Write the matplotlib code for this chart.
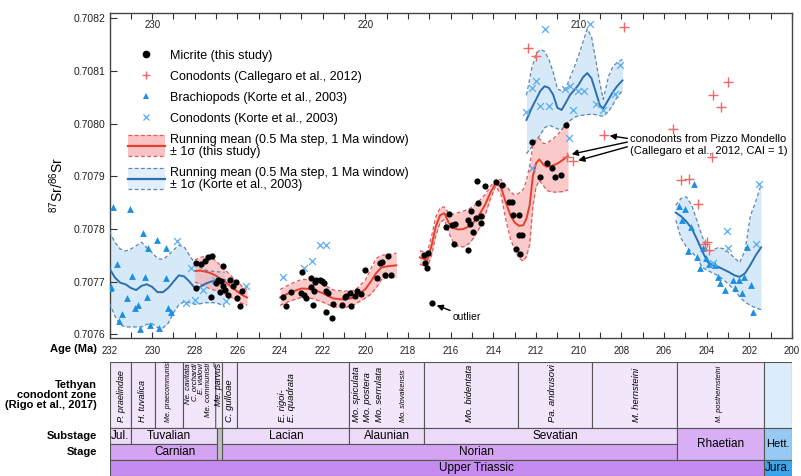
import numpy as np
import matplotlib
matplotlib.use("Agg")
import matplotlib.pyplot as plt
from matplotlib.patches import Rectangle
from matplotlib.lines import Line2D
from matplotlib.legend_handler import HandlerBase
import matplotlib.transforms as mtransforms

plt.rcParams['font.family'] = ['Liberation Sans', 'DejaVu Sans']
plt.rcParams['mathtext.fontset'] = 'custom'
plt.rcParams['mathtext.rm'] = 'Liberation Sans'
plt.rcParams['mathtext.it'] = 'Liberation Sans:italic'

# ----------------------------------------
# data (age in Ma, 87Sr/86Sr)
# ----------------------------------------
micrite_age = [227.93, 227.73, 227.54, 227.39, 227.20, 226.68, 226.92, 227.00, 226.76, 226.68,
               226.37, 226.84, 226.60, 226.05, 226.21, 227.26, 227.93, 226.45, 226.01, 225.90,
               225.79,
               223.87, 223.71, 223.47, 223.00, 222.90, 222.98, 222.77, 222.53, 222.53, 222.41,
               222.38, 222.30, 222.15, 222.04, 221.94, 221.83, 221.76, 222.46, 221.83, 221.57,
               221.52, 221.10, 220.89, 220.97, 220.69, 220.74, 220.47, 220.38, 220.19, 220.00,
               219.44, 219.33, 219.22, 218.94, 219.10, 218.81,
               217.27, 217.06, 217.22, 217.11, 216.86, 216.23, 216.08, 215.92, 215.81, 215.86,
               215.21, 215.19, 215.11, 215.03, 214.95, 214.82, 214.76, 214.72, 214.59, 214.56,
               214.41, 213.86, 213.62, 213.26, 213.15, 213.07, 212.79, 212.79, 212.68, 212.95,
               212.73, 211.82, 211.51, 211.27, 211.12, 212.21, 210.60, 210.84]
micrite_sr = [0.707735, 0.707733, 0.707740, 0.707746, 0.707748, 0.707729, 0.707704, 0.707697, 0.707701, 0.707692,
              0.707703, 0.707681, 0.707684, 0.707700, 0.707692, 0.707670, 0.707687, 0.707674, 0.707668, 0.707654,
              0.707683,
              0.707670, 0.707654, 0.707681, 0.707679, 0.707674, 0.707719, 0.707668, 0.707706, 0.707689, 0.707683,
              0.707700, 0.707704, 0.707704, 0.707702, 0.707698, 0.707683, 0.707679, 0.707655, 0.707642, 0.707631,
              0.707657, 0.707655, 0.707672, 0.707670, 0.707654, 0.707679, 0.707672, 0.707682, 0.707676, 0.707723,
              0.707706, 0.707736, 0.707738, 0.707748, 0.707712, 0.707712,
              0.707750, 0.707755, 0.707736, 0.707725, 0.707660, 0.707803, 0.707829, 0.707807, 0.707809, 0.707772,
              0.707761, 0.707817, 0.707809, 0.707834, 0.707794, 0.707820, 0.707891, 0.707850, 0.707824, 0.707812,
              0.707881, 0.707889, 0.707884, 0.707851, 0.707851, 0.707826, 0.707826, 0.707788, 0.707788, 0.707762,
              0.707752, 0.707899, 0.707925, 0.707915, 0.707899, 0.707965, 0.707997, 0.707902]

callegaro_age = [212.37, 211.98, 207.88, 202.98, 203.69, 203.33, 205.57, 208.80, 203.77, 210.54,
                 210.26, 205.22, 204.81, 204.42, 203.97, 204.08, 203.88]
callegaro_sr = [0.708143, 0.708128, 0.708184, 0.708079, 0.708054, 0.708031, 0.707989, 0.707978, 0.707936, 0.707937,
                0.707929, 0.707893, 0.707894, 0.707847, 0.707776, 0.707772, 0.707760]

brach_age = [231.85, 231.05, 230.45, 229.75, 230.20, 229.35, 231.65, 230.95, 230.35, 229.35,
             231.95, 231.20, 230.25, 230.80, 230.65, 231.40, 229.25, 229.10, 231.55, 230.55,
             230.10, 229.70, 231.97,
             204.60, 205.28, 205.02, 205.17, 204.75, 204.86, 204.44, 204.19, 204.03, 204.31,
             203.88, 203.62, 203.46, 203.37, 203.14, 202.75, 202.67, 202.47, 202.36, 202.25,
             202.12, 201.93, 201.81]
brach_sr = [0.707842, 0.707837, 0.707792, 0.707779, 0.707763, 0.707764, 0.707733, 0.707710, 0.707709, 0.707706,
            0.707690, 0.707668, 0.707670, 0.707650, 0.707655, 0.707638, 0.707650, 0.707642, 0.707625, 0.707610,
            0.707618, 0.707612, 0.707687,
            0.707885, 0.707843, 0.707838, 0.707817, 0.707803, 0.707758, 0.707747, 0.707763, 0.707744, 0.707725,
            0.707733, 0.707731, 0.707709, 0.707697, 0.707685, 0.707703, 0.707687, 0.707704, 0.707679, 0.707709,
            0.707765, 0.707693, 0.707643]

korte_cono_age = [228.82, 228.20, 228.43, 228.00, 227.60, 227.07, 226.55, 225.60,
                  223.87, 222.90, 222.52, 222.11, 221.83,
                  209.47, 211.59, 212.21, 211.98, 212.45, 211.82, 211.40, 210.65, 210.41, 210.02,
                  209.76, 210.26, 210.45, 212.21, 209.19, 208.88, 208.30, 208.07,
                  201.53, 203.06, 201.68, 203.72, 202.99]
korte_cono_sr = [0.707777, 0.707725, 0.707660, 0.707666, 0.707685, 0.707703, 0.707664, 0.707692,
                 0.707708, 0.707725, 0.707739, 0.707769, 0.707769,
                 0.708189, 0.708179, 0.708068, 0.708080, 0.708022, 0.708034, 0.708034, 0.708065, 0.708071, 0.708061,
                 0.708062, 0.708025, 0.707972, 0.707915, 0.708037, 0.708025, 0.708057, 0.708111,
                 0.707885, 0.707796, 0.707771, 0.707736, 0.707763]

# running mean of this study, three segments (mean and 1 sigma)
red_age_1 = [228.0, 227.75, 227.5, 227.25, 227.0, 226.75, 226.5, 226.25, 226.0, 225.75, 225.55]
red_mean_1 = [0.707720, 0.707721, 0.707719, 0.707716, 0.707711, 0.707704, 0.707697, 0.707689, 0.707681, 0.707674, 0.707670]
red_sd_1 = [0.000021, 0.000025, 0.000029, 0.000030, 0.000028, 0.000025, 0.000022, 0.000020, 0.000018, 0.000016, 0.000015]

red_age_2 = [224.0, 223.5, 223.0, 222.5, 222.0, 221.5, 221.0, 220.5, 220.0, 219.75, 219.5, 219.25, 219.0, 218.55]
red_mean_2 = [0.707670, 0.707680, 0.707687, 0.707686, 0.707678, 0.707668, 0.707666, 0.707670, 0.707686, 0.707700,
              0.707716, 0.707727, 0.707729, 0.707731]
red_sd_2 = [0.000015, 0.000016, 0.000017, 0.000018, 0.000017, 0.000016, 0.000016, 0.000013, 0.000017, 0.000024,
            0.000028, 0.000023, 0.000022, 0.000023]

red_age_3 = [217.45, 217.25, 217.1, 216.9, 216.7, 216.5, 216.3, 216.1, 215.9, 215.65, 215.4, 215.15, 214.9, 214.65,
             214.4, 214.15, 213.9, 213.65, 213.4, 213.2, 213.0, 212.8, 212.6, 212.45, 212.3, 212.15, 212.0, 211.85,
             211.65, 211.5, 211.25, 211.0, 210.75, 210.5]
red_mean_3 = [0.707746, 0.707743, 0.707741, 0.707768, 0.707805, 0.707826, 0.707830, 0.707812, 0.707802, 0.707799,
              0.707800, 0.707805, 0.707814, 0.707828, 0.707845, 0.707868, 0.707887, 0.707880, 0.707848, 0.707826,
              0.707812, 0.707806, 0.707807, 0.707820, 0.707845, 0.707900, 0.707925, 0.707932, 0.707922, 0.707918,
              0.707920, 0.707924, 0.707931, 0.707939]
red_sd_3 = [0.000013, 0.000013, 0.000014, 0.000018, 0.000018, 0.000014, 0.000012, 0.000018, 0.000026, 0.000032,
            0.000034, 0.000033, 0.000030, 0.000026, 0.000020, 0.000012, 0.000006, 0.000014, 0.000034, 0.000045,
            0.000052, 0.000062, 0.000068, 0.000072, 0.000075, 0.000058, 0.000045, 0.000040, 0.000040, 0.000045,
            0.000050, 0.000054, 0.000060, 0.000065]

# running mean of Korte et al. (2003), three segments (lower, mean, upper)
blue_age_1 = [232.0, 231.75, 231.5, 231.25, 231.0, 230.75, 230.5, 230.25, 230.0, 229.75, 229.5, 229.25,
              229.0, 228.75, 228.5, 228.25, 228.0, 227.75, 227.5, 227.25, 227.0, 226.75, 226.6]
blue_lo_1 = [0.707659, 0.707635, 0.707618, 0.707614, 0.707614, 0.707614, 0.707614, 0.707619, 0.707620, 0.707613,
             0.707612, 0.707621, 0.707641, 0.707656, 0.707662, 0.707660, 0.707657, 0.707658, 0.707660, 0.707660,
             0.707660, 0.707656, 0.707652]
blue_mean_1 = [0.707725, 0.707708, 0.707698, 0.707695, 0.707688, 0.707684, 0.707692, 0.707695, 0.707690, 0.707680,
               0.707680, 0.707688, 0.707700, 0.707712, 0.707710, 0.707700, 0.707688, 0.707690, 0.707696, 0.707700,
               0.707702, 0.707703, 0.707703]
blue_hi_1 = [0.707795, 0.707775, 0.707762, 0.707758, 0.707762, 0.707768, 0.707775, 0.707764, 0.707755, 0.707744,
             0.707742, 0.707750, 0.707760, 0.707769, 0.707766, 0.707750, 0.707735, 0.707727, 0.707722, 0.707720,
             0.707719, 0.707718, 0.707718]

blue_age_2 = [212.45, 212.2, 212.0, 211.8, 211.6, 211.4, 211.2, 211.0, 210.8, 210.6, 210.4, 210.2, 210.0,
              209.8, 209.6, 209.4, 209.2, 209.0, 208.85, 208.6, 208.4, 208.2, 207.95]
blue_lo_2 = [0.707943, 0.707956, 0.707968, 0.707979, 0.707992, 0.707997, 0.707994, 0.707990, 0.707988, 0.707999,
             0.708006, 0.708012, 0.708015, 0.708016, 0.708017, 0.708018, 0.708017, 0.708015, 0.708014, 0.708023,
             0.708036, 0.708050, 0.708063]
blue_mean_2 = [0.708007, 0.708030, 0.708046, 0.708062, 0.708071, 0.708068, 0.708055, 0.708030, 0.708026, 0.708040,
               0.708055, 0.708064, 0.708074, 0.708088, 0.708096, 0.708086, 0.708060, 0.708034, 0.708029, 0.708046,
               0.708060, 0.708071, 0.708082]
blue_hi_2 = [0.708054, 0.708105, 0.708132, 0.708141, 0.708137, 0.708122, 0.708098, 0.708066, 0.708062, 0.708068,
             0.708088, 0.708108, 0.708130, 0.708155, 0.708180, 0.708165, 0.708120, 0.708075, 0.708046, 0.708090,
             0.708108, 0.708116, 0.708122]

blue_age_3 = [205.45, 205.2, 204.95, 204.7, 204.45, 204.2, 203.95, 203.7, 203.45, 203.2, 202.95, 202.7,
              202.45, 202.2, 201.95, 201.7, 201.45]
blue_lo_3 = [0.707817, 0.707782, 0.707766, 0.707756, 0.707745, 0.707727, 0.707721, 0.707716, 0.707711, 0.707703,
             0.707694, 0.707684, 0.707671, 0.707661, 0.707655, 0.707650, 0.707647]
blue_mean_3 = [0.707831, 0.707824, 0.707814, 0.707801, 0.707780, 0.707757, 0.707737, 0.707731, 0.707728, 0.707723,
               0.707718, 0.707712, 0.707709, 0.707716, 0.707732, 0.707750, 0.707765]
blue_hi_3 = [0.707845, 0.707858, 0.707861, 0.707845, 0.707815, 0.707785, 0.707756, 0.707760, 0.707765, 0.707762,
             0.707755, 0.707745, 0.707736, 0.707760, 0.707825, 0.707852, 0.707884]

# timescale
zone_edges = [232.0, 231.0, 229.85, 228.55, 226.72, 226.0, 220.78, 217.26, 212.87, 209.36, 205.4, 201.3]
jurassic_start = 201.3
age_end = 200.0
wavy_age = [227.02, 227.02, 227.10, 227.10]
zone_names = ['P. praelindae', 'H. tuvalica', 'Me. praecommunisi',
              'Ne. cavitata\nC. orchardi\nE. vialovi\nMe. communisti', 'Me. parvus', 'C. gulloae',
              'E. rigoi-\nE. quadrata', 'Mo. spiculata', 'Mo. postera', 'Mo. serrulata', 'Mo. slovakensis',
              'Mo. bidentata', 'Pa. andrusovi', 'M. hernsteini', 'M. posthernsteini']
zone_label_age = [231.45, 230.45, 229.25, 227.82, 226.88, 226.38, 223.7, 220.42, 219.88, 219.34, 218.2,
                  215.1, 211.25, 207.3, 203.4]
zone_label_size = [6.5, 6.5, 5, 5.6, 6.3, 6.8, 6.8, 6.8, 6.8, 6.8, 5.3, 6.8, 6.8, 6.8, 5.3]
zone_label_top = [False, False, False, True, True, False, False, False, False, False, False,
                  False, False, False, False]

substage_names = ['Jul.', 'Tuvalian', 'Lacian', 'Alaunian', 'Sevatian']
substage_start = [232.0, 231.0, 226.72, 220.78, 217.26]
substage_end = [231.0, 226.97, 220.78, 217.26, 205.4]
substage_label_age = [231.5, 229.2, 223.7, 219.0, 211.1]
stage_names = ['Carnian', 'Norian']
stage_start = [232.0, 226.72]
stage_end = [226.97, 205.4]
stage_label_age = [228.95, 214.8]
gap_start, gap_end = 226.97, 226.72
rhaetian = (205.4, 201.3)
series_names = ['Upper Triassic', 'Jura.']
series_start = [232.0, 201.3]
series_end = [201.3, 200.0]
series_label_age = [214.8, 200.65]

top_label_ages = [230, 220, 210]

# colours
c_red_line, c_red_dash, c_red_fill = '#e2412d', '#e05a5a', '#f7aaaa'
c_blue_line, c_blue_dash, c_blue_fill = '#2a6fae', '#5b86b3', '#d6e9f8'
c_zone, c_sub, c_stage, c_series = '#f2e6fb', '#ecdbf9', '#d4a3f2', '#c58bf0'
c_rhaet, c_jur_zone, c_hett, c_jura = '#d8aef5', '#dbecfb', '#96caf4', '#3aa6ee'
c_edge = '#555555'


class BandKey:
    def __init__(self, fill, line, dash):
        self.fill, self.line, self.dash = fill, line, dash


class BandHandler(HandlerBase):
    def create_artists(self, legend, key, xd, yd, w, h, fs, trans):
        h2 = h * 2.4
        y0 = -yd + (h - h2) / 2
        x = [-xd, -xd + w]
        rect = Rectangle((-xd, y0), w, h2, facecolor=key.fill, edgecolor='none', alpha=0.7, transform=trans)
        top = Line2D(x, [y0 + h2] * 2, color=key.dash, ls='--', lw=0.9, dashes=(3, 2), transform=trans)
        bot = Line2D(x, [y0] * 2, color=key.dash, ls='--', lw=0.9, dashes=(3, 2), transform=trans)
        mid = Line2D(x, [y0 + h2 / 2] * 2, color=key.line, lw=1.6, transform=trans)
        return [rect, top, bot, mid]


fig = plt.figure(figsize=(8.01, 4.76), dpi=100)
W, H = 801.0, 476.0
ax_left, ax_right = 109.5, 792.0
ax = fig.add_axes([ax_left / W, 1 - 338 / H, (ax_right - ax_left) / W, (338 - 13) / H])


def band(age, lo, mid, hi, fill, line, dash, z):
    ax.fill_between(age, lo, hi, color=fill, lw=0, zorder=z)
    ax.plot(age, hi, color=dash, ls='--', lw=0.9, dashes=(3, 2), zorder=4)
    ax.plot(age, lo, color=dash, ls='--', lw=0.9, dashes=(3, 2), zorder=4)
    ax.plot(age, mid, color=line, lw=1.4, zorder=5)


for age, lo, mid, hi in [(blue_age_1, blue_lo_1, blue_mean_1, blue_hi_1),
                         (blue_age_2, blue_lo_2, blue_mean_2, blue_hi_2),
                         (blue_age_3, blue_lo_3, blue_mean_3, blue_hi_3)]:
    band(age, lo, mid, hi, c_blue_fill, c_blue_line, c_blue_dash, 1)

for age, mean, sd in [(red_age_1, red_mean_1, red_sd_1),
                      (red_age_2, red_mean_2, red_sd_2),
                      (red_age_3, red_mean_3, red_sd_3)]:
    mean = np.array(mean)
    sd = np.array(sd)
    ax.fill_between(age, mean - sd, mean + sd, color=c_red_fill, alpha=0.62, lw=0, zorder=2)
    ax.plot(age, mean + sd, color=c_red_dash, ls='--', lw=0.9, dashes=(3, 2), zorder=4)
    ax.plot(age, mean - sd, color=c_red_dash, ls='--', lw=0.9, dashes=(3, 2), zorder=4)
    ax.plot(age, mean, color=c_red_line, lw=1.4, zorder=5)

ax.scatter(brach_age, brach_sr, marker='^', s=24, color='#1c8fe0', lw=0, zorder=6)
ax.scatter(korte_cono_age, korte_cono_sr, marker='x', s=24, color='#58adef', lw=0.9, zorder=6)
ax.scatter(callegaro_age, callegaro_sr, marker='+', s=42, color='#f06868', lw=1.0, zorder=6)
ax.scatter(micrite_age, micrite_sr, marker='o', s=20, color='k', lw=0, zorder=7)

ax.set_xlim(232, 200)
ax.set_ylim(0.707593, 0.708210)
ax.set_xticks(np.arange(200, 233, 2))
ax.set_xticks(np.arange(200, 233, 1), minor=True)
ax.set_xticklabels([str(v) for v in range(200, 233, 2)])
ax.set_yticks(np.arange(0.7076, 0.70821, 0.0001))
ax.set_yticklabels(['%.4f' % v for v in np.arange(0.7076, 0.70821, 0.0001)])
ax.tick_params(axis='x', which='both', direction='in', top=True, length=4, width=0.8,
               labelsize=7, pad=6, colors='#333333')
ax.tick_params(axis='y', direction='in', length=5, width=0.8, labelsize=7.5, pad=3, colors='#333333')
for tl in ax.get_xticklabels() + ax.get_yticklabels():
    tl.set_color('#222222')
for sp in ax.spines.values():
    sp.set_linewidth(1.0)
    sp.set_color('#444444')

ax.set_ylabel(r'$^{87}$Sr/$^{86}$Sr', fontsize=10)
ax.yaxis.set_label_coords(-0.064, 0.47)

trans_top = mtransforms.blended_transform_factory(ax.transData, ax.transAxes)
for a in top_label_ages:
    ax.text(a, 0.963, str(a), transform=trans_top, ha='center', va='center', fontsize=7, color='#222222')

# annotations
arrow = dict(arrowstyle='-|>', color='k', lw=1.0, mutation_scale=9, shrinkA=0, shrinkB=0)
ax.annotate('outlier', xy=(216.66, 0.707655), xytext=(215.9, 0.707633), fontsize=7.5,
            ha='left', va='center', arrowprops=arrow)
ax.text(207.6, 0.707959, 'conodonts from Pizzo Mondello\n(Callegaro et al., 2012, CAI = 1)',
        fontsize=8, ha='left', va='center', linespacing=1.2)
ax.annotate('', xy=(208.55, 0.707977), xytext=(207.72, 0.707972), arrowprops=arrow)
ax.annotate('', xy=(210.33, 0.707942), xytext=(207.72, 0.707965), arrowprops=arrow)
ax.annotate('', xy=(210.02, 0.707930), xytext=(207.72, 0.707956), arrowprops=arrow)

# legend
handles = [Line2D([], [], marker='o', ls='none', color='k', ms=4.5),
           Line2D([], [], marker='+', ls='none', color='#f06868', ms=6, mew=1.0),
           Line2D([], [], marker='^', ls='none', color='#1c8fe0', ms=4.5, mew=0),
           Line2D([], [], marker='x', ls='none', color='#58adef', ms=4.5, mew=0.9),
           BandKey(c_red_fill, c_red_line, c_red_dash),
           BandKey(c_blue_fill, c_blue_line, c_blue_dash)]
labels = ['Micrite (this study)', 'Conodonts (Callegaro et al., 2012)', 'Brachiopods (Korte et al., 2003)',
          'Conodonts (Korte et al., 2003)',
          'Running mean (0.5 Ma step, 1 Ma window)\n\u00b1 1\u03c3 (this study)',
          'Running mean (0.5 Ma step, 1 Ma window)\n\u00b1 1\u03c3 (Korte et al., 2003)']
leg = ax.legend(handles, labels, handler_map={BandKey: BandHandler()}, loc='upper left',
                bbox_to_anchor=(0.027, 0.887), frameon=False, fontsize=9, handlelength=2.95,
                handletextpad=0.4, labelspacing=0.72, borderpad=0, borderaxespad=0)
for t in leg.get_texts():
    t.set_linespacing(1.0)
leg.set_zorder(10)

# ----------------------------------------
# timescale panel
# ----------------------------------------
tax = fig.add_axes([ax_left / W, 0, (ax_right - ax_left) / W, (476 - 362) / H])
tax.set_xlim(232, 200)
tax.set_ylim(0, 114)
tax.axis('off')
row_series, row_stage, row_sub, row_zone = (0, 16), (16, 32), (32, 48), (48, 114)


def cell(a0, a1, rows, color, lw=0.8):
    y0, y1 = rows
    tax.add_patch(Rectangle((a1, y0), a0 - a1, y1 - y0, facecolor=color, edgecolor=c_edge, lw=lw))


for a0, a1 in zip(zone_edges[:-1], zone_edges[1:]):
    cell(a0, a1, row_zone, c_zone)
cell(jurassic_start, age_end, row_zone, c_jur_zone)
tax.plot(wavy_age, [48, 107, 110, 114], color=c_edge, lw=0.8)

for a0, a1 in zip(substage_start, substage_end):
    cell(a0, a1, row_sub, c_sub)
for a0, a1 in zip(stage_start, stage_end):
    cell(a0, a1, row_stage, c_stage)
cell(gap_start, gap_end, (16, 48), '#bdbdbd')
cell(rhaetian[0], rhaetian[1], (16, 48), c_rhaet)
cell(jurassic_start, age_end, (16, 48), c_hett)
cell(series_start[0], series_end[0], row_series, c_series)
cell(series_start[1], series_end[1], row_series, c_jura)

for name, a, fs, top in zip(zone_names, zone_label_age, zone_label_size, zone_label_top):
    if top:
        tax.text(a, 113, name, rotation=90, ha='center', va='top', fontsize=fs, style='italic',
                 multialignment='right', linespacing=0.9)
    else:
        tax.text(a, 54, name, rotation=90, ha='center', va='bottom', fontsize=fs, style='italic',
                 multialignment='left', linespacing=1.0)

for name, a in zip(substage_names, substage_label_age):
    tax.text(a, 40, name, ha='center', va='center', fontsize=8.5)
for name, a in zip(stage_names, stage_label_age):
    tax.text(a, 24, name, ha='center', va='center', fontsize=8.5)
tax.text(sum(rhaetian) / 2, 32, 'Rhaetian', ha='center', va='center', fontsize=8.5)
tax.text(series_label_age[1], 32, 'Hett.', ha='center', va='center', fontsize=8)
for name, a in zip(series_names, series_label_age):
    tax.text(a, 8, name, ha='center', va='center', fontsize=8.5)

tax.text(232.6, 81, 'Tethyan\nconodont zone\n(Rigo et al., 2017)', ha='right', va='center',
         fontsize=8, weight='bold', multialignment='right', linespacing=1.05, clip_on=False)
tax.text(232.6, 40, 'Substage', ha='right', va='center', fontsize=8, weight='bold', clip_on=False)
tax.text(232.6, 24, 'Stage', ha='right', va='center', fontsize=8, weight='bold', clip_on=False)
fig.text(97 / W, 1 - 349 / H, 'Age (Ma)', ha='right', va='center', fontsize=8, weight='bold')

fig.savefig('out.png', dpi=100)
